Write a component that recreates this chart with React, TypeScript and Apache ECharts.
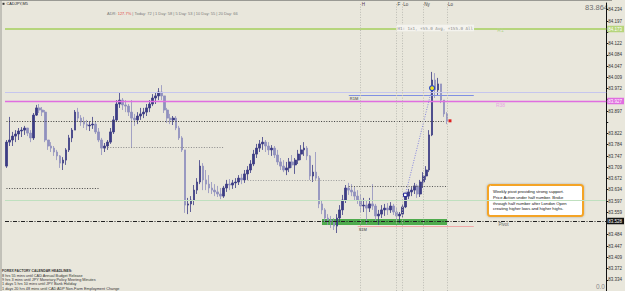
import React, { useEffect, useRef } from 'react';
import * as echarts from 'echarts';

const FONT = 'Liberation Sans, Arial, sans-serif';
const MONO = 'DejaVu Sans Mono, Liberation Mono, monospace';

// 5-minute slots (15-min aggregated) shown on the chart, including empty right margin
const SLOT_COUNT = 202;
const slots: string[] = Array.from({ length: SLOT_COUNT }, (_, i) => 't' + i);

// OHLC values (CADJPY)
const opens = [
  83.713, 83.793, 83.800, 83.813, 83.820, 83.830, 83.833, 83.840, 83.823, 83.807,
  83.883, 83.907, 83.900, 83.893, 83.800, 83.780, 83.773, 83.760, 83.747, 83.723,
  83.733, 83.767, 83.807, 83.833, 83.893, 83.873, 83.860, 83.853, 83.847, 83.850,
  83.853, 83.827, 83.800, 83.773, 83.780, 83.793, 83.827, 83.867, 83.920, 83.933,
  83.917, 83.913, 83.893, 83.873, 83.867, 83.880, 83.887, 83.893, 83.907, 83.920,
  83.940, 83.947, 83.960, 83.947, 83.900, 83.873, 83.867, 83.873, 83.840, 83.807,
  83.767, 83.583, 83.587, 83.600, 83.633, 83.660, 83.713, 83.667, 83.653, 83.640,
  83.633, 83.627, 83.620, 83.613, 83.640, 83.653, 83.650, 83.657, 83.660, 83.673,
  83.667, 83.687, 83.700, 83.720, 83.753, 83.773, 83.787, 83.793, 83.780, 83.767,
  83.773, 83.750, 83.727, 83.713, 83.700, 83.707, 83.727, 83.717, 83.733, 83.753,
  83.767, 83.773, 83.747, 83.680, 83.693, 83.673, 83.587, 83.567, 83.540, 83.533,
  83.527, 83.513, 83.540, 83.567, 83.600, 83.640, 83.633, 83.627, 83.613, 83.600,
  83.580, 83.583, 83.573, 83.587, 83.580, 83.547, 83.553, 83.567, 83.573, 83.567,
  83.580, 83.560, 83.547, 83.553, 83.577, 83.613, 83.627, 83.633, 83.647, 83.620,
  83.660, 83.680, 83.700, 83.817, 84.000, 83.967, 83.987, 83.933, 83.887,
];
const closes = [
  83.793, 83.800, 83.813, 83.820, 83.830, 83.833, 83.840, 83.823, 83.807, 83.883,
  83.907, 83.900, 83.893, 83.800, 83.780, 83.773, 83.760, 83.747, 83.723, 83.733,
  83.767, 83.807, 83.833, 83.893, 83.873, 83.860, 83.853, 83.847, 83.850, 83.853,
  83.827, 83.800, 83.773, 83.780, 83.793, 83.827, 83.867, 83.920, 83.933, 83.917,
  83.913, 83.893, 83.873, 83.867, 83.880, 83.887, 83.893, 83.907, 83.920, 83.940,
  83.947, 83.960, 83.947, 83.900, 83.873, 83.867, 83.873, 83.840, 83.807, 83.767,
  83.583, 83.587, 83.600, 83.633, 83.660, 83.713, 83.667, 83.653, 83.640, 83.633,
  83.627, 83.620, 83.613, 83.640, 83.653, 83.650, 83.657, 83.660, 83.673, 83.667,
  83.687, 83.700, 83.720, 83.753, 83.773, 83.787, 83.793, 83.780, 83.767, 83.773,
  83.750, 83.727, 83.713, 83.700, 83.707, 83.727, 83.717, 83.733, 83.753, 83.767,
  83.773, 83.747, 83.680, 83.693, 83.673, 83.587, 83.567, 83.540, 83.533, 83.527,
  83.513, 83.540, 83.567, 83.600, 83.640, 83.633, 83.627, 83.613, 83.600, 83.580,
  83.583, 83.573, 83.587, 83.580, 83.547, 83.553, 83.567, 83.573, 83.567, 83.580,
  83.560, 83.547, 83.553, 83.577, 83.613, 83.627, 83.633, 83.647, 83.620, 83.660,
  83.680, 83.700, 83.817, 84.000, 83.967, 83.987, 83.933, 83.887, 83.864,
];
const lows = [
  83.707, 83.780, 83.780, 83.793, 83.800, 83.810, 83.817, 83.813, 83.793, 83.800,
  83.880, 83.890, 83.880, 83.793, 83.767, 83.760, 83.747, 83.733, 83.707, 83.700,
  83.717, 83.760, 83.793, 83.833, 83.860, 83.847, 83.840, 83.833, 83.830, 83.837,
  83.820, 83.793, 83.750, 83.760, 83.767, 83.787, 83.820, 83.860, 83.907, 83.900,
  83.893, 83.880, 83.773, 83.847, 83.853, 83.867, 83.873, 83.880, 83.893, 83.913,
  83.920, 83.933, 83.933, 83.890, 83.857, 83.853, 83.850, 83.833, 83.800, 83.760,
  83.557, 83.553, 83.560, 83.583, 83.620, 83.653, 83.633, 83.633, 83.623, 83.620,
  83.613, 83.610, 83.603, 83.607, 83.627, 83.633, 83.637, 83.640, 83.650, 83.653,
  83.657, 83.667, 83.690, 83.713, 83.740, 83.760, 83.767, 83.760, 83.750, 83.747,
  83.740, 83.717, 83.700, 83.693, 83.683, 83.693, 83.707, 83.687, 83.720, 83.733,
  83.747, 83.733, 83.667, 83.660, 83.667, 83.573, 83.553, 83.527, 83.517, 83.507,
  83.500, 83.490, 83.527, 83.550, 83.590, 83.617, 83.613, 83.600, 83.587, 83.560,
  83.560, 83.520, 83.560, 83.567, 83.527, 83.517, 83.540, 83.547, 83.550, 83.557,
  83.550, 83.533, 83.523, 83.540, 83.573, 83.603, 83.613, 83.620, 83.607, 83.610,
  83.640, 83.667, 83.693, 83.813, 83.940, 83.947, 83.923, 83.877, 83.853,
];
const highs = [
  83.800, 83.877, 83.827, 83.833, 83.840, 83.843, 83.847, 83.840, 83.833, 83.890,
  83.917, 83.920, 83.910, 83.900, 83.800, 83.793, 83.780, 83.767, 83.750, 83.743,
  83.773, 83.817, 83.840, 83.900, 83.907, 83.883, 83.877, 83.867, 83.863, 83.877,
  83.860, 83.840, 83.807, 83.790, 83.800, 83.840, 83.880, 83.933, 83.957, 83.940,
  83.933, 83.920, 83.933, 83.887, 83.893, 83.907, 83.907, 83.920, 83.933, 83.953,
  83.960, 83.973, 83.983, 83.947, 83.907, 83.887, 83.880, 83.880, 83.847, 83.813,
  83.767, 83.607, 83.613, 83.650, 83.673, 83.733, 83.723, 83.700, 83.683, 83.660,
  83.653, 83.647, 83.640, 83.647, 83.667, 83.670, 83.667, 83.673, 83.683, 83.687,
  83.700, 83.713, 83.733, 83.767, 83.787, 83.800, 83.810, 83.800, 83.793, 83.783,
  83.780, 83.767, 83.740, 83.733, 83.727, 83.740, 83.750, 83.740, 83.767, 83.783,
  83.793, 83.780, 83.750, 83.717, 83.760, 83.680, 83.600, 83.573, 83.553, 83.547,
  83.540, 83.553, 83.583, 83.617, 83.650, 83.657, 83.653, 83.643, 83.633, 83.620,
  83.607, 83.600, 83.607, 83.653, 83.587, 83.567, 83.583, 83.587, 83.590, 83.593,
  83.587, 83.573, 83.560, 83.587, 83.623, 83.637, 83.643, 83.657, 83.653, 83.667,
  83.693, 83.713, 83.833, 84.027, 84.023, 84.007, 83.987, 83.933, 83.893,
];

// Price axis
const Y_MIN = 83.2967;
const Y_MAX = 84.2567;
const Y_STEP = 0.0375;

// Horizontal levels
const R1_LEVEL = 84.173;
const LAVENDER_LEVEL = 83.960;
const R1M_LEVEL = 83.950;
const MAGENTA_LEVEL = 83.927;
const DOT_LEVEL_A = 83.777;
const DOT_LEVEL_B = 83.667;
const DOT_LEVEL_C = 83.647;
const DOT_LEVEL_D = 83.640;
const PALE_GREEN_LEVEL = 83.603;
const PIVOT_LEVEL = 83.528;
const ZONE_TOP = 83.537;
const ZONE_BOTTOM = 83.517;
const S1M_LEVEL = 83.513;
const TOP_LABEL_LEVEL = 84.252;

// Session separators (slot index, label)
const sessionSlots = [119, 131, 133, 140, 148];
const sessionLabels = ['H', 'F', 'Lo', 'Ny', 'Lo'];

// Trend line points
const TREND_FROM = { slot: 134, price: 83.617 };
const TREND_TO = { slot: 143, price: 83.973 };

const SYMBOL_LABEL = 'CADJPY,M5';
const ADR_VALUE = '127.7%';
const ADR_REST = ' | Today: 72 | 1 Day: 58 | 5 Day: 53 | 10 Day: 55 | 20 Day: 66';
const STATS_LABEL = 'H1: 1x1, +55.0 Avg, +155.0 All';
const CALENDAR_TITLE = 'FOREX FACTORY CALENDAR HEADLINES:';
const calendarLines = [
  '8 hrs 55 mins until CAD Annual Budget Release',
  '9 hrs 3 mins until JPY Monetary Policy Meeting Minutes',
  '1 days 5 hrs 10 mins until JPY Bank Holiday',
  '1 days 20 hrs 48 mins until CAD ADP Non-Farm Employment Change',
];
const noteLines = [
  'Weekly pivot providing strong support.',
  'Price Action under half number. Broke',
  'through half number after London Open',
  'creating higher lows and higher highs.',
];

function axisTag(bg: string, fg: string, value: number) {
  return {
    show: true,
    position: 'end',
    distance: 1,
    formatter: value.toFixed(3),
    fontSize: 4.5,
    fontFamily: FONT,
    color: fg,
    backgroundColor: bg,
    padding: [1, 2, 0.5, 1],
  };
}

function seg(from: number, to: number, level: number, lineStyle: any, label?: any) {
  return [
    { coord: [slots[from], level], lineStyle, label: label || { show: false } },
    { coord: [slots[to], level] },
  ];
}

function textPoint(slot: number, price: number, text: string, color: string, fontSize: number, position = 'inside', extra: any = {}) {
  return {
    coord: [slots[slot], price],
    symbol: 'rect',
    symbolSize: 0,
    itemStyle: { color: 'rgba(0,0,0,0)' },
    label: { show: true, formatter: text, color, fontSize, fontFamily: FONT, position, distance: 1, ...extra },
  };
}

function buildOption() {
  const candles = opens.map((o, i) => [o, closes[i], lows[i], highs[i]]);
  const last = closes[closes.length - 1];
  const lastSlot = closes.length - 1;
  const tagLevels = [R1_LEVEL, MAGENTA_LEVEL, PIVOT_LEVEL, last];

  const dotted = (color: string) => ({ color, width: 1, type: [1, 1.6] });

  const markLineData: any[] = [
    { yAxis: R1_LEVEL, lineStyle: { color: '#b6d57c', width: 2, type: 'solid' }, label: axisTag('#b6d57c', '#ffffff', R1_LEVEL) },
    { yAxis: LAVENDER_LEVEL, lineStyle: { color: '#c6c6ee', width: 1, type: 'solid' }, label: { show: false } },
    { yAxis: MAGENTA_LEVEL, lineStyle: { color: '#e06ee0', width: 1.3, type: 'solid' }, label: axisTag('#e06ee0', '#ffffff', MAGENTA_LEVEL) },
    { yAxis: PALE_GREEN_LEVEL, lineStyle: { color: '#bfe0bf', width: 1, type: 'solid' }, label: { show: false } },
    { yAxis: PIVOT_LEVEL, lineStyle: { color: '#222222', width: 1, type: [4, 1.5, 1, 1.5] }, label: axisTag('#111111', '#ffffff', PIVOT_LEVEL) },
    { yAxis: last, lineStyle: { color: '#000', width: 0, opacity: 0 }, label: axisTag('#111111', '#ffffff', last) },
    seg(0, lastSlot - 1, last, dotted('#3a3a3a')),
    seg(34, 73, DOT_LEVEL_A, dotted('#8a8a8a')),
    seg(0, 31, DOT_LEVEL_D, dotted('#444444')),
    seg(81, 114, DOT_LEVEL_B, dotted('#9a9a9a')),
    seg(115, 148, DOT_LEVEL_C, dotted('#555555')),
    seg(115, 157, R1M_LEVEL, { color: '#8090e2', width: 1.2, type: 'solid' },
      { show: true, position: 'insideStartBottom', formatter: 'R1M', fontSize: 4, color: '#333', fontFamily: FONT, distance: 1 }),
    seg(118, 157, S1M_LEVEL, { color: '#f0a8a8', width: 1, type: 'solid' },
      { show: true, position: 'insideStartBottom', formatter: 'S1M', fontSize: 4, color: '#333', fontFamily: FONT, distance: 1 }),
    [
      { coord: [slots[TREND_FROM.slot], TREND_FROM.price], lineStyle: { color: '#8585dc', width: 1, type: [1, 1.5] }, label: { show: false } },
      { coord: [slots[TREND_TO.slot], TREND_TO.price] },
    ],
  ];
  sessionSlots.forEach((s) => {
    markLineData.push({ xAxis: slots[s], lineStyle: { color: '#bcbcb4', width: 1, type: [1, 1.6] }, label: { show: false } });
  });

  const markPointData: any[] = [
    textPoint(131, R1_LEVEL, STATS_LABEL, '#8a8a8a', 4.2, 'right', {
      fontFamily: MONO, backgroundColor: '#f4f3ee', padding: [1.5, 1, 1, 1], distance: 0,
    }),
    textPoint(166, 84.167, 'R1', '#b6d690', 5),
    textPoint(166, 83.917, 'R38', '#e8a4e4', 5),
    textPoint(167, 83.517, 'Pivot', '#666666', 4.5),
    {
      coord: [slots[TREND_FROM.slot], TREND_FROM.price], symbol: 'rect', symbolSize: 3.5,
      itemStyle: { color: '#ffffff', borderColor: '#1a1a90', borderWidth: 1 }, label: { show: false },
    },
    {
      coord: [slots[TREND_TO.slot], TREND_TO.price], symbol: 'circle', symbolSize: 5,
      itemStyle: { color: '#f0e020', borderColor: '#2848c8', borderWidth: 1.2 }, label: { show: false },
    },
    {
      coord: [slots[lastSlot + 1], last], symbol: 'rect', symbolSize: 3,
      itemStyle: { color: '#e02020' }, label: { show: false },
    },
  ];
  sessionSlots.forEach((s, i) => {
    markPointData.push(textPoint(s, TOP_LABEL_LEVEL, sessionLabels[i], i === 0 ? '#553355' : '#444444', 4.5, 'right'));
  });

  return {
    animation: false,
    backgroundColor: '#e9e7dc',
    grid: { left: 5, right: 13, top: 3, bottom: 0 },
    xAxis: { type: 'category', data: slots, show: false, boundaryGap: true },
    yAxis: {
      type: 'value',
      position: 'right',
      min: Y_MIN,
      max: Y_MAX,
      interval: Y_STEP,
      scale: true,
      axisLine: { show: true, lineStyle: { color: '#111111', width: 1 } },
      axisTick: { show: true, length: 2, lineStyle: { color: '#111111' } },
      axisLabel: {
        fontSize: 4.5, color: '#333333', margin: 2, fontFamily: FONT,
        showMinLabel: false, showMaxLabel: false,
        formatter: (v: number) => {
          // tick labels covered by a highlighted level tag are not drawn
          if (tagLevels.some((t) => Math.abs(t - v) < 0.02)) return '';
          return v.toFixed(3);
        },
      },
      splitLine: { show: false },
    },
    series: [
      {
        type: 'candlestick',
        data: candles,
        barWidth: 2.2,
        itemStyle: {
          color: '#3c3c84', color0: '#9090be',
          borderColor: '#3c3c84', borderColor0: '#9090be', borderWidth: 0.8,
        },
        markArea: {
          silent: true,
          itemStyle: { color: 'rgba(50,160,50,0.85)' },
          data: [[{ coord: [slots[106], ZONE_TOP] }, { coord: [slots[148], ZONE_BOTTOM] }]],
        },
        markLine: {
          silent: true,
          symbol: ['none', 'none'],
          label: { show: false },
          data: markLineData,
        },
        markPoint: {
          silent: true,
          data: markPointData,
        },
      },
    ],
    graphic: [
      { type: 'line', silent: true, shape: { x1: 0, y1: 0.5, x2: 612, y2: 0.5 }, style: { stroke: '#9a9a94', lineWidth: 1 } },
      { type: 'line', silent: true, shape: { x1: 1, y1: 0, x2: 1, y2: 291 }, style: { stroke: '#9a9a94', lineWidth: 1 } },
      { type: 'rect', silent: true, shape: { x: 2.5, y: 2.8, width: 2, height: 2 }, style: { fill: '#333333' } },
      {
        type: 'text', silent: true, x: 6.5, y: 3.8,
        style: { text: SYMBOL_LABEL, fontSize: 3.9, fontFamily: FONT, fill: '#222222', verticalAlign: 'middle', textVerticalAlign: 'middle' },
      },
      {
        type: 'text', silent: true, x: 107, y: 13.3,
        style: {
          text: '{g|ADR: }{r|' + ADR_VALUE + '}{g|' + ADR_REST + '}',
          fontFamily: FONT, verticalAlign: 'middle', textVerticalAlign: 'middle',
          rich: {
            g: { fontSize: 4, fill: '#7a7a7a', color: '#7a7a7a', fontFamily: FONT },
            r: { fontSize: 4, fill: '#e04848', color: '#e04848', fontFamily: FONT },
          },
        },
      },
      {
        type: 'text', silent: true, x: 608, y: 7.5,
        style: { text: last.toFixed(3), fontSize: 7.5, fontFamily: FONT, fill: '#6e6e6e', align: 'right', textAlign: 'right', verticalAlign: 'middle', textVerticalAlign: 'middle' },
      },
      {
        type: 'text', silent: true, x: 605, y: 286.5,
        style: { text: '0.0', fontSize: 6.5, fontFamily: FONT, fill: '#8a8a8a', align: 'right', textAlign: 'right', verticalAlign: 'middle', textVerticalAlign: 'middle' },
      },
      {
        type: 'text', silent: true, x: 2, y: 269,
        style: {
          text: '{h|' + CALENDAR_TITLE + '}\n' + calendarLines.map((l) => '{n|' + l + '}').join('\n'),
          fontFamily: FONT, verticalAlign: 'top', textVerticalAlign: 'top',
          rich: {
            h: { fontSize: 3.4, fontWeight: 'bold', fill: '#333333', color: '#333333', lineHeight: 4.4, fontFamily: FONT },
            n: { fontSize: 3.8, fill: '#333333', color: '#333333', lineHeight: 4.4, fontFamily: FONT },
          },
        },
      },
      {
        type: 'rect', silent: true,
        shape: { x: 488, y: 185, width: 95, height: 31, r: 2.5 },
        style: { fill: '#ffffff', stroke: '#f4a428', lineWidth: 2, shadowBlur: 2, shadowColor: 'rgba(0,0,0,0.25)' },
      },
      {
        type: 'text', silent: true, x: 493, y: 189,
        style: {
          text: noteLines.join('\n'), fontSize: 4.2, lineHeight: 5.7, fontFamily: FONT, fill: '#111111',
          verticalAlign: 'top', textVerticalAlign: 'top',
        },
      },
    ],
  };
}

export default function App() {
  const ref = useRef<HTMLDivElement>(null);
  useEffect(() => {
    if (!ref.current) return;
    const chart = echarts.init(ref.current, undefined, { renderer: 'svg' });
    chart.setOption(buildOption() as any);
    return () => chart.dispose();
  }, []);
  return <div ref={ref} style={{ position: 'fixed', left: 0, top: 0, width: 625, height: 291 }} />;
}
